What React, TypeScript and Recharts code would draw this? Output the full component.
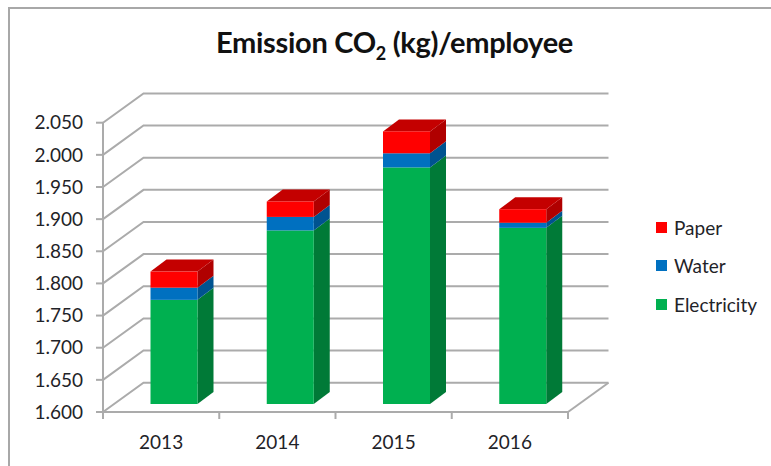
import { Bar, BarChart, CartesianGrid, Legend, XAxis, YAxis } from "recharts";

const years = ["2013", "2014", "2015", "2016"];
const electricity = [1762, 1870, 1968, 1874];
const water = [19, 21, 22, 8];
const paper = [25, 24, 34, 21];
const yTicks = [1600, 1650, 1700, 1750, 1800, 1850, 1900, 1950, 2000, 2050];

const chartData = years.map((year, i) => ({
  year,
  electricity: electricity[i],
  water: water[i],
  paper: paper[i],
}));

const FONT = "Lato, 'Open Sans', sans-serif";
const TEXT_COLOR = "#1f2328";
const AXIS_COLOR = "#ababab";

const PLOT_TOP = 122.7;
const PLOT_BOTTOM = 412;
const PLOT_LEFT = 103;
const PLOT_RIGHT = 568;
const BAND = (PLOT_RIGHT - PLOT_LEFT) / years.length;

// oblique offset of the back wall, and of the bars inside the box
const WALL_DX = 40.5;
const WALL_DY = -29.3;
const BAR_DX = 12.5;
const BAR_DY = -8;
const SIDE_DX = 16;
const SIDE_DY = -12;

const COLORS = {
  electricity: { front: "#00b050", side: "#007a37" },
  water: { front: "#0070c0", side: "#005390" },
  paper: { front: "#ff0000", side: "#b00000", top: "#c40000" },
};

function Box3D({ x, y, width, height, front, side, top }: any) {
  const left = x + BAR_DX;
  const right = left + width;
  const upper = y + BAR_DY;
  const lower = Math.min(y + height, PLOT_BOTTOM) + BAR_DY;
  return (
    <g>
      <polygon
        points={`${right},${upper} ${right + SIDE_DX},${upper + SIDE_DY} ${right + SIDE_DX},${lower + SIDE_DY} ${right},${lower}`}
        fill={side}
      />
      {top && (
        <polygon
          points={`${left},${upper} ${left + SIDE_DX},${upper + SIDE_DY} ${right + SIDE_DX},${upper + SIDE_DY} ${right},${upper}`}
          fill={top}
        />
      )}
      <rect x={left} y={upper} width={width} height={lower - upper} fill={front} />
    </g>
  );
}

function gridLine(props: any) {
  const { x1, y1, x2, y2, key } = props;
  const isFloor = Math.abs(y1 - PLOT_BOTTOM) < 1;
  const backY = y1 + WALL_DY;
  return (
    <g key={key}>
      <polyline
        points={`${x1},${y1} ${x1 + WALL_DX},${backY} ${x2 + WALL_DX},${y2 + WALL_DY}`}
        fill="none"
        stroke={AXIS_COLOR}
        strokeWidth={2}
      />
      {isFloor && (
        <line
          x1={x2}
          y1={y2}
          x2={x2 + WALL_DX}
          y2={y2 + WALL_DY}
          stroke={AXIS_COLOR}
          strokeWidth={2}
        />
      )}
    </g>
  );
}

function YearTick({ x, y, payload, index }: any) {
  const last = index === years.length - 1;
  return (
    <g>
      <line x1={x - BAND / 2} y1={PLOT_BOTTOM} x2={x - BAND / 2} y2={PLOT_BOTTOM + 7} stroke={AXIS_COLOR} strokeWidth={2} />
      {last && (
        <line x1={x + BAND / 2} y1={PLOT_BOTTOM} x2={x + BAND / 2} y2={PLOT_BOTTOM + 7} stroke={AXIS_COLOR} strokeWidth={2} />
      )}
      <text x={x} y={y + 29} textAnchor="middle" fontFamily={FONT} fontSize={19} fill={TEXT_COLOR}>
        {payload.value}
      </text>
    </g>
  );
}

function ChartLegend({ payload }: any) {
  const items = [...(payload ?? [])].reverse();
  return (
    <div style={{ fontFamily: FONT, fontSize: 19, color: TEXT_COLOR }}>
      {items.map((item: any) => (
        <div key={item.value} style={{ display: "flex", alignItems: "center", height: 38.5 }}>
          <span style={{ width: 11, height: 11, background: item.color, marginRight: 7 }} />
          {item.value}
        </div>
      ))}
    </div>
  );
}

export default function App() {
  return (
    <div
      style={{
        position: "absolute",
        left: 0,
        top: 0,
        width: 771,
        height: 466,
        background: "#fff",
        overflow: "hidden",
      }}
    >
      {/* the walls of the box stick out of the plot area, the bars must not be cut there */}
      <style>{`.recharts-bar, .recharts-bar * { clip-path: none; }`}</style>
      <div
        style={{
          position: "absolute",
          left: 8,
          top: 7,
          width: 763,
          height: 459,
          borderLeft: "2px solid #a8a8a8",
          borderTop: "2px solid #a8a8a8",
          boxSizing: "border-box",
        }}
      />
      <div
        style={{
          position: "absolute",
          left: 0,
          width: 789,
          top: 24,
          textAlign: "center",
          fontFamily: FONT,
          fontWeight: 700,
          fontSize: 29,
          letterSpacing: -0.3,
          color: "#111",
          whiteSpace: "nowrap",
        }}
      >
        Emission CO<sub style={{ fontSize: 18, lineHeight: 0 }}>2</sub> (kg)/employee
      </div>
      <BarChart
        width={771}
        height={466}
        data={chartData}
        margin={{ top: PLOT_TOP, right: 771 - PLOT_RIGHT, bottom: 0, left: 0 }}
        barSize={47}
        style={{ position: "absolute", left: 0, top: 0 }}
      >
        <CartesianGrid vertical={false} horizontal={gridLine} />
        <XAxis
          dataKey="year"
          height={466 - PLOT_BOTTOM}
          stroke={AXIS_COLOR}
          strokeWidth={2}
          tickLine={false}
          tick={YearTick}
          interval={0}
        />
        <YAxis
          domain={[1600, 2050]}
          allowDataOverflow
          ticks={yTicks}
          interval={0}
          width={PLOT_LEFT}
          stroke={AXIS_COLOR}
          strokeWidth={2}
          tickSize={7}
          tickMargin={13}
          tickFormatter={(v: number) => `${Math.floor(v / 1000)}.${String(v % 1000).padStart(3, "0")}`}
          tick={{ fontFamily: FONT, fontSize: 19, fill: TEXT_COLOR }}
        />
        <Legend
          layout="vertical"
          align="center"
          verticalAlign="middle"
          content={ChartLegend}
          itemSorter={null}
          wrapperStyle={{ left: 656, top: 208, width: 115 }}
        />
        <Bar
          dataKey="electricity"
          name="Electricity"
          stackId="co2"
          fill={COLORS.electricity.front}
          isAnimationActive={false}
          shape={(props: any) => <Box3D {...props} {...COLORS.electricity} />}
        />
        <Bar
          dataKey="water"
          name="Water"
          stackId="co2"
          fill={COLORS.water.front}
          isAnimationActive={false}
          shape={(props: any) => <Box3D {...props} {...COLORS.water} />}
        />
        <Bar
          dataKey="paper"
          name="Paper"
          stackId="co2"
          fill={COLORS.paper.front}
          isAnimationActive={false}
          shape={(props: any) => <Box3D {...props} {...COLORS.paper} />}
        />
      </BarChart>
    </div>
  );
}
